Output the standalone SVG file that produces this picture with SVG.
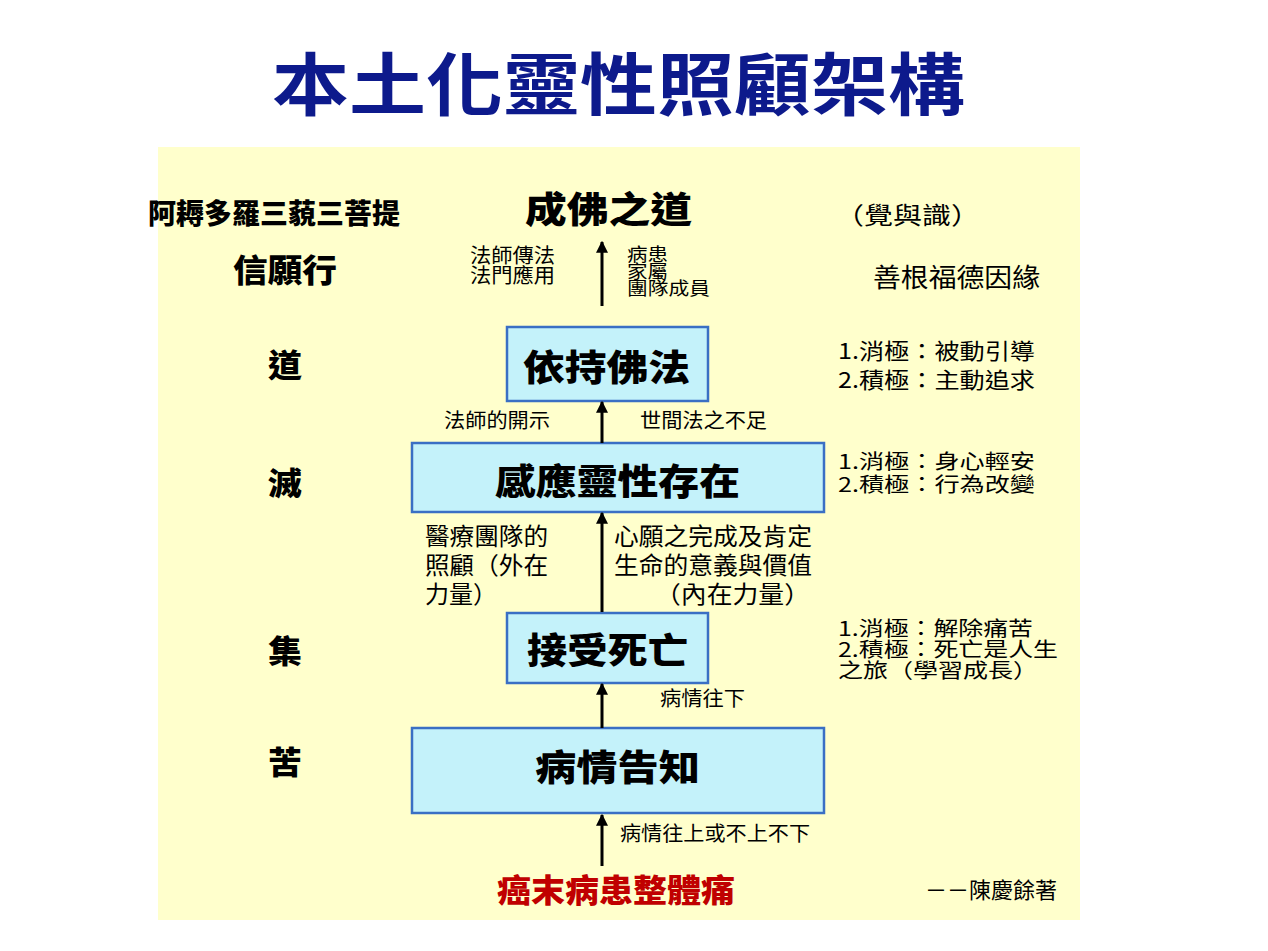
<svg xmlns="http://www.w3.org/2000/svg" width="1268" height="951" viewBox="0 0 1268 951">
<style>
text{font-family:"Noto Sans CJK TC","Noto Sans CJK SC",sans-serif;fill:#000}
.box{fill:#c4f2fa;stroke:#3a6fc4;stroke-width:2.5}
.big{font-size:36px;font-weight:900}
.side{font-size:32px;font-weight:900}
.xs{font-size:18px}
.sm{font-size:20px}
.md{font-size:22px}
.lg{font-size:24px}
.conn line{stroke:#000;stroke-width:3}
</style>
<defs>
<marker id="ah" viewBox="0 0 10 10" refX="9" refY="5" markerWidth="4" markerHeight="4" orient="auto" markerUnits="strokeWidth">
<path d="M0,0 L10,5 L0,10 z" fill="#000"/>
</marker>
</defs>
<rect x="0" y="0" width="1268" height="951" fill="#fff"/>
<rect x="158" y="147" width="922" height="773" fill="#ffffcc"/>
<text id="title" x="272" y="110" font-size="68" font-weight="bold" textLength="693" lengthAdjust="spacingAndGlyphs" style="fill:#0d1a8c">本土化靈性照顧架構</text>

<g id="left-labels">
<text x="148" y="224" font-size="28" font-weight="900" textLength="252" lengthAdjust="spacingAndGlyphs">阿耨多羅三藐三菩提</text>
<text x="233" y="282" class="side" textLength="104" lengthAdjust="spacingAndGlyphs">信願行</text>
<text x="268" y="377" class="side" textLength="34" lengthAdjust="spacingAndGlyphs">道</text>
<text x="268" y="495" class="side" textLength="34" lengthAdjust="spacingAndGlyphs">滅</text>
<text x="268" y="663" class="side" textLength="34" lengthAdjust="spacingAndGlyphs">集</text>
<text x="268" y="774" class="side" textLength="34" lengthAdjust="spacingAndGlyphs">苦</text>
</g>

<g id="top-node">
<text x="525" y="223" class="big" textLength="167" lengthAdjust="spacingAndGlyphs">成佛之道</text>
</g>
<text x="835" y="224" class="lg" textLength="145" lengthAdjust="spacingAndGlyphs">（覺與識）</text>
<text x="873" y="287" font-size="26" textLength="167" lengthAdjust="spacingAndGlyphs">善根福德因緣</text>

<g id="top-labels">
<text x="470" y="263" class="sm" textLength="85" lengthAdjust="spacingAndGlyphs">法師傳法</text>
<text x="470" y="283" class="sm" textLength="85" lengthAdjust="spacingAndGlyphs">法門應用</text>
<text x="627" y="261" class="xs" textLength="41" lengthAdjust="spacingAndGlyphs">病患</text>
<text x="627" y="278" class="xs" textLength="41" lengthAdjust="spacingAndGlyphs">家屬</text>
<text x="627" y="295" class="xs" textLength="83" lengthAdjust="spacingAndGlyphs">團隊成員</text>
</g>

<g id="node-yichi">
<rect class="box" x="507" y="327" width="201" height="74"/>
<text x="523" y="381" class="big" textLength="167" lengthAdjust="spacingAndGlyphs">依持佛法</text>
</g>
<text x="838" y="359" class="md" textLength="197" lengthAdjust="spacingAndGlyphs">1.消極：被動引導</text>
<text x="838" y="388" class="md" textLength="197" lengthAdjust="spacingAndGlyphs">2.積極：主動追求</text>
<text x="444" y="428" class="sm" textLength="106" lengthAdjust="spacingAndGlyphs">法師的開示</text>
<text x="640" y="428" class="sm" textLength="127" lengthAdjust="spacingAndGlyphs">世間法之不足</text>

<g id="node-ganying">
<rect class="box" x="412" y="443" width="412" height="69"/>
<text x="495" y="495" class="big" textLength="245" lengthAdjust="spacingAndGlyphs">感應靈性存在</text>
</g>
<text x="838" y="469" class="sm" textLength="197" lengthAdjust="spacingAndGlyphs">1.消極：身心輕安</text>
<text x="838" y="492" class="sm" textLength="197" lengthAdjust="spacingAndGlyphs">2.積極：行為改變</text>

<g id="mid-labels">
<text x="425" y="545" class="lg" textLength="123" lengthAdjust="spacingAndGlyphs">醫療團隊的</text>
<text x="425" y="574" class="lg" textLength="123" lengthAdjust="spacingAndGlyphs">照顧（外在</text>
<text x="425" y="603" class="lg" textLength="72" lengthAdjust="spacingAndGlyphs">力量）</text>
<text x="614" y="545" class="lg" textLength="198" lengthAdjust="spacingAndGlyphs">心願之完成及肯定</text>
<text x="614" y="574" class="lg" textLength="198" lengthAdjust="spacingAndGlyphs">生命的意義與價值</text>
<text x="655" y="603" class="lg" textLength="155" lengthAdjust="spacingAndGlyphs">（內在力量）</text>
</g>

<g id="node-jieshou">
<rect class="box" x="507" y="613" width="201" height="70"/>
<text x="527" y="664" class="big" textLength="161" lengthAdjust="spacingAndGlyphs">接受死亡</text>
</g>
<text x="838" y="636" class="sm" textLength="195" lengthAdjust="spacingAndGlyphs">1.消極：解除痛苦</text>
<text x="838" y="657" class="sm" textLength="220" lengthAdjust="spacingAndGlyphs">2.積極：死亡是人生</text>
<text x="838" y="678" class="sm" textLength="200" lengthAdjust="spacingAndGlyphs">之旅（學習成長）</text>
<text x="660" y="706" class="sm" textLength="85" lengthAdjust="spacingAndGlyphs">病情往下</text>

<g id="node-bingqing">
<rect class="box" x="412" y="728" width="412" height="85"/>
<text x="535" y="781" class="big" textLength="165" lengthAdjust="spacingAndGlyphs">病情告知</text>
</g>
<text x="620" y="841" class="sm" textLength="190" lengthAdjust="spacingAndGlyphs">病情往上或不上不下</text>

<g id="node-bottom">
<text x="497" y="902" font-size="32" font-weight="900" textLength="238" lengthAdjust="spacingAndGlyphs" style="fill:#c00000">癌末病患整體痛</text>
</g>
<text x="925" y="898" class="md" textLength="132" lengthAdjust="spacingAndGlyphs">－－陳慶餘著</text>

<g id="connectors" class="conn">
<line x1="602" y1="866" x2="602" y2="815" marker-end="url(#ah)"/>
<line x1="602" y1="728" x2="602" y2="684" marker-end="url(#ah)"/>
<line x1="602" y1="612" x2="602" y2="513" marker-end="url(#ah)"/>
<line x1="602" y1="443" x2="602" y2="402" marker-end="url(#ah)"/>
<line x1="602" y1="306" x2="602" y2="242" marker-end="url(#ah)"/>
</g>
</svg>
